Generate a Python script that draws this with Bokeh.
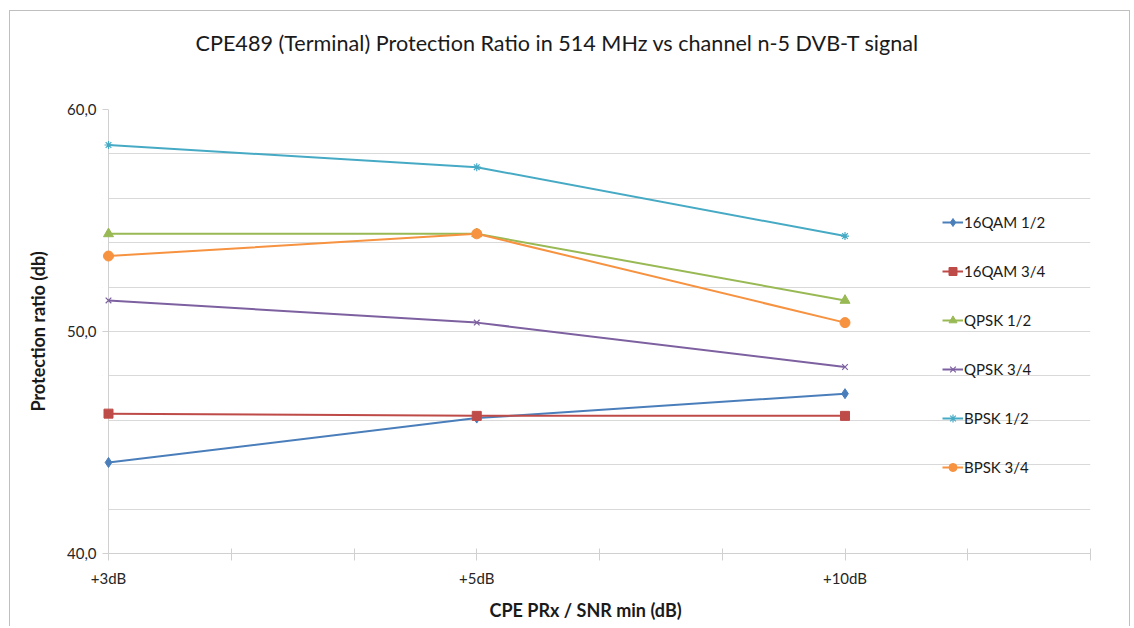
from bokeh.plotting import figure
from bokeh.models import FixedTicker, Range1d, Legend, LegendItem, Span, BoxAnnotation, Title
from bokeh.embed import file_html
from bokeh.resources import INLINE

# x categories (placed on a 0..8 numeric scale, three units apart)
categories = ["+3dB", "+5dB", "+10dB"]
cat_pos = [0, 3, 6]

# Protection ratio (dB) per modulation / code rate
qam16_12 = [44.1, 46.1, 47.2]
qam16_34 = [46.3, 46.2, 46.2]
qpsk_12 = [54.4, 54.4, 51.4]
qpsk_34 = [51.4, 50.4, 48.4]
bpsk_12 = [58.4, 57.4, 54.3]
bpsk_34 = [53.4, 54.4, 50.4]

series_names = ["16QAM 1/2", "16QAM 3/4", "QPSK 1/2", "QPSK 3/4", "BPSK 1/2", "BPSK 3/4"]
series_values = [qam16_12, qam16_34, qpsk_12, qpsk_34, bpsk_12, bpsk_34]
colors = ["#4A7EBB", "#BE4B48", "#98B954", "#7D60A0", "#46AAC5", "#F69240"]
markers = ["diamond", "square", "triangle", "x", "asterisk", "circle"]
marker_sizes = [10, 9, 10, 8, 8, 10]

y_labels = [40, 50, 60]
y_grid = list(range(40, 61, 2))

TITLE = "CPE489 (Terminal) Protection Ratio in 514 MHz vs channel n-5 DVB-T signal"
X_LABEL = "CPE PRx / SNR min (dB)"
Y_LABEL = "Protection ratio (db)"
FONT = "Lato"
AXIS_GREY = "#D0D0D0"
PX_PER_UNIT = 122.75      # horizontal pixels per x unit
PAD_PX = 6                # room left of x=0 so the first markers are not clipped
PAD = PAD_PX / PX_PER_UNIT

p = figure(
    width=1121, height=616,
    x_range=Range1d(-PAD, 8), y_range=Range1d(40, 60),
    output_backend="svg", toolbar_location=None,
    min_border_left=98 - PAD_PX, min_border_top=98, min_border_right=41, min_border_bottom=73,
    margin=(10, 0, 0, 9),
)
p.styles = {"border-top": "1px solid #BFBFBF", "border-left": "1px solid #BFBFBF",
            "border-right": "1px solid #BFBFBF"}
p.outline_line_color = None
p.title.text = ""

# chart title: a thin spacer next to the plot area, then the title text above it
p.add_layout(Title(text=" ", text_font_size="1px", standoff=51), "above")
p.add_layout(Title(text=TITLE, align="left", offset=93, standoff=0,
                   text_font=FONT, text_font_size="21.6px", text_font_style="normal",
                   text_color="#1a1a1a"), "above")

# grid
p.xgrid.visible = False
p.ygrid.ticker = FixedTicker(ticks=y_grid)
p.ygrid.grid_line_color = "#D9D9D9"
p.ygrid.grid_line_width = 1
# blank strip left of the value axis so the grid starts at x = 0
p.add_layout(BoxAnnotation(left=-PAD, right=0, fill_color="white", fill_alpha=1,
                           line_color=None, level="underlay"))
# value axis line at x = 0
p.add_layout(Span(location=0, dimension="height", line_color=AXIS_GREY, line_width=1,
                  level="underlay"))

# y axis: labels and short ticks reaching x = 0
p.yaxis.ticker = FixedTicker(ticks=y_labels)
p.yaxis.major_label_overrides = {v: f"{v:.1f}".replace(".", ",") for v in y_labels}
p.yaxis.axis_line_color = None
p.yaxis.major_tick_line_color = AXIS_GREY
p.yaxis.major_tick_in = PAD_PX
p.yaxis.major_tick_out = 0
p.yaxis.minor_tick_line_color = None
p.yaxis.major_label_text_font = FONT
p.yaxis.major_label_text_font_size = "15px"
p.yaxis.major_label_text_color = "#262626"
p.yaxis.major_label_standoff = 6
p.yaxis.axis_label = Y_LABEL
p.yaxis.axis_label_text_font = FONT
p.yaxis.axis_label_text_font_size = "18px"
p.yaxis.axis_label_text_font_style = "bold"
p.yaxis.axis_label_text_color = "#1a1a1a"
p.yaxis.axis_label_standoff = 15

# x axis
p.xaxis.bounds = (0, 8)
p.xaxis.ticker = FixedTicker(ticks=list(range(0, 9)))
overrides = {i: "" for i in range(0, 9)}
for pos, lab in zip(cat_pos, categories):
    overrides[pos] = lab
p.xaxis.major_label_overrides = overrides
p.xaxis.axis_line_color = AXIS_GREY
p.xaxis.major_tick_line_color = AXIS_GREY
p.xaxis.major_tick_in = 5
p.xaxis.major_tick_out = 7
p.xaxis.minor_tick_line_color = None
p.xaxis.major_label_text_font = FONT
p.xaxis.major_label_text_font_size = "15px"
p.xaxis.major_label_text_color = "#262626"
p.xaxis.major_label_standoff = 8

# x axis title, set below the tick labels
p.add_layout(Title(text=X_LABEL, align="left", offset=387, standoff=14,
                   text_font=FONT, text_font_size="18px", text_font_style="bold",
                   text_color="#1a1a1a"), "below")

items = []
for name, vals, col, mk, ms in zip(series_names, series_values, colors, markers, marker_sizes):
    ln = p.line(cat_pos, vals, line_color=col, line_width=2)
    if mk in ("x", "asterisk"):
        sc = p.scatter(cat_pos, vals, marker=mk, size=ms, line_color=col, line_width=1.2,
                       fill_color=None)
    else:
        sc = p.scatter(cat_pos, vals, marker=mk, size=ms, line_color=col, fill_color=col)
    items.append(LegendItem(label=name, renderers=[ln, sc]))

legend = Legend(
    items=items, location=(834 + PAD_PX, 76),
    border_line_color=None, background_fill_alpha=0,
    padding=0, margin=0, spacing=29,
    glyph_width=21, glyph_height=20, label_height=20, label_standoff=1,
    label_text_font=FONT, label_text_font_size="15px", label_text_color="#1a1a1a",
)
p.add_layout(legend)

open("out.html", "w").write(file_html(p, INLINE))
